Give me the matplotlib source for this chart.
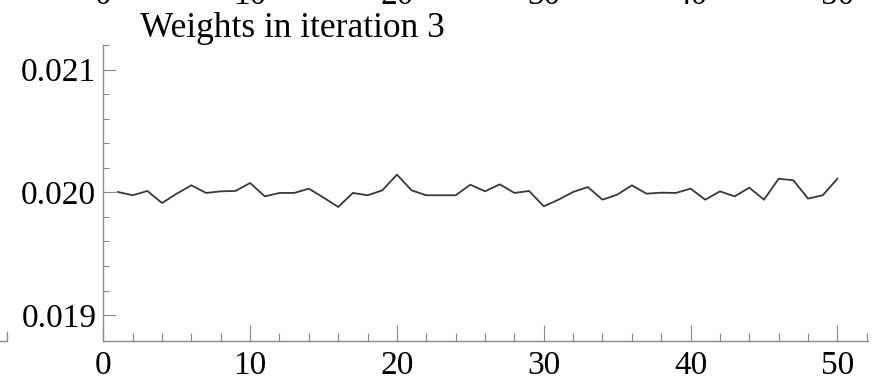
import numpy as np
import matplotlib.pyplot as plt
from matplotlib.lines import Line2D
from matplotlib.transforms import blended_transform_factory

#===================================================================================================
# data

iteration = np.arange(1, 51)   # x values 1..50
weights = [0.020003, 0.019976, 0.020011, 0.019913, 0.019989, 0.020057, 0.019995, 0.020008, 0.020011, 0.020076,
           0.019967, 0.019995, 0.019995, 0.020030, 0.019957, 0.019881, 0.019995, 0.019976, 0.020016, 0.020144,
           0.020016, 0.019976, 0.019976, 0.019976, 0.020062, 0.020008, 0.020065, 0.019995, 0.020011, 0.019886,
           0.019940, 0.020003, 0.020043, 0.019940, 0.019981, 0.020057, 0.019989, 0.019997, 0.019995, 0.020030,
           0.019940, 0.020008, 0.019967, 0.020038, 0.019940, 0.020111, 0.020098, 0.019949, 0.019976, 0.020111]

xticks = [0, 10, 20, 30, 40, 50]
yticks = [0.019, 0.020, 0.021]
title = "Weights in iteration 3"

#===================================================================================================

W, H = 872, 384
plt.rcParams['font.family'] = ['Liberation Serif', 'DejaVu Serif']
fs = 24
axcol = '#8a8a8a'

fig = plt.figure(figsize=(W/100, H/100), dpi=100)
ax = fig.add_axes([103.3/W, (H-341)/H, (867.5-103.3)/W, (341-45)/H])

ax.plot(iteration, weights, color='#383838', lw=1.3)

ax.set_xlim(0, 52.05)
ax.set_ylim(0.018789, 0.02120)
ax.set_xticks(xticks)
ax.set_xticklabels([str(t) for t in xticks])
ax.set_xticks(np.arange(2, 53, 2), minor=True)
ax.set_yticks(yticks)
ax.set_yticklabels(['%.3f' % t for t in yticks])
ax.set_yticks(np.arange(0.0190, 0.02121, 0.0002), minor=True)

for s in ['top', 'right']:
    ax.spines[s].set_visible(False)
for s in ['left', 'bottom']:
    ax.spines[s].set_color(axcol)
    ax.spines[s].set_linewidth(1.0)

ax.tick_params(axis='x', which='major', direction='in', length=11.5, width=0.8, color=axcol,
               labelsize=fs, pad=7)
ax.tick_params(axis='x', which='minor', direction='in', length=6, width=0.8, color=axcol)
ax.tick_params(axis='y', which='major', direction='in', length=9, width=0.8, color=axcol,
               labelsize=fs, pad=5)
ax.tick_params(axis='y', which='minor', direction='in', length=4.5, width=0.8, color=axcol)

# plot label
fig.text(140/W, 1 - 37/H, title, fontsize=25.5, ha='left', va='baseline')

# tick labels of the panel above, cut off by the top edge
tr = blended_transform_factory(ax.transData, fig.transFigure)
for t in xticks:
    ax.text(t, 1 - 4/H, str(t), transform=tr, fontsize=fs, ha='center', va='baseline', clip_on=False)

# corner of the neighbouring panel's axis at the far left
fig.add_artist(Line2D([0, 6.7/W, 6.7/W], [(H-341)/H, (H-341)/H, (H-332)/H], color=axcol, lw=1.0))

plt.savefig('out.png', dpi=100)
plt.close()
